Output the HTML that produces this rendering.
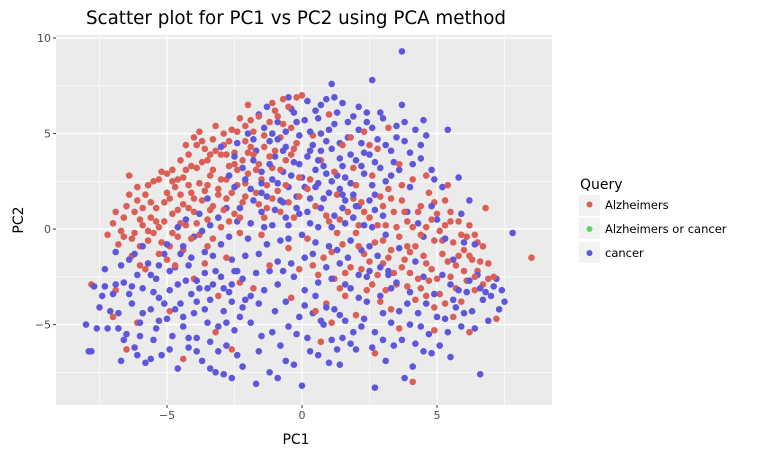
<!DOCTYPE html>
<html><head><meta charset="utf-8"><style>
body{margin:0;background:#fff;}
svg{display:block;font-family:"DejaVu Sans","Liberation Sans",sans-serif;}
</style></head><body>
<svg id="chart" width="761" height="456">
<rect x="0" y="0" width="761" height="456" fill="#fff"></rect>
<text x="296" y="24" font-size="18.3" text-anchor="middle" fill="#000">Scatter plot for PC1 vs PC2 using PCA method</text>
<rect x="56" y="35" width="496" height="370" fill="#ebebeb"></rect>
<g id="grid"></g>
<g id="axes"></g>
<g id="pts"></g>
<text x="296" y="444" font-size="14" text-anchor="middle" fill="#000">PC1</text>
<text x="23" y="220" font-size="14" text-anchor="middle" fill="#000" transform="rotate(-90 23 220)">PC2</text>
<g>
<text x="580" y="189" font-size="14" fill="#000">Query</text>
<g><rect x="579" y="195" width="21" height="21" fill="#f2f2f2"></rect><circle cx="589.5" cy="204.5" r="3" fill="#db5f57"></circle><text x="605" y="209" font-size="11.5" fill="#000">Alzheimers</text></g>
<g><rect x="579" y="218" width="21" height="21" fill="#f2f2f2"></rect><circle cx="589.5" cy="229" r="3" fill="#57db5f"></circle><text x="605" y="233" font-size="11.5" fill="#000">Alzheimers or cancer</text></g>
<g><rect x="579" y="242" width="21" height="21" fill="#f2f2f2"></rect><circle cx="589.5" cy="253" r="3" fill="#5f57db"></circle><text x="605" y="257" font-size="11.5" fill="#000">cancer</text></g>
</g>
</svg>
<script>
const xTicks=[-5,0,5];
const yTicks=[-5,0,5,10];
const xMinor=[-7.5,-2.5,2.5,7.5];
const yMinor=[-7.5,-2.5,2.5,7.5];
const alzheimersPts=[[-7.2,-0.3],[-7,0.3],[-6.8,-0.8],[-6.6,0.6],[-6.5,1.2],[-6.4,2.8],[-6.3,-0.5],[-6.2,0.9],[-6.1,1.5],[-6,-0.9],[-5.9,0.2],[-5.8,1.8],[-5.7,2.3],[-5.6,0.6],[-5.5,-0.2],[-5.4,1.1],[-5.3,2.6],[-5.2,-0.7],[-5.1,0.4],[-5,2.9],[-4.9,1.6],[-4.8,3.1],[-4.8,0.8],[-4.7,2.2],[-4.6,-0.4],[-4.5,3.6],[-4.4,1.3],[-4.4,2.7],[-4.3,0.2],[-4.2,3.9],[-4.1,1.9],[-4,4.8],[-4,0.9],[-3.9,3.2],[-3.8,2.4],[-3.8,5.1],[-3.7,1.5],[-3.6,4.2],[-3.5,0.5],[-3.5,3.6],[-3.4,2.8],[-3.3,4.7],[-3.3,1.2],[-3.2,5.4],[-3.1,2.1],[-3,3.9],[-3,0.1],[-2.9,4.4],[-2.8,2.6],[-2.8,1.6],[-2.7,3.3],[-2.6,5.2],[-2.5,4],[-2.5,0.8],[-2.4,2.3],[-2.3,5.8],[-2.2,3.6],[-2.2,1.4],[-2.1,4.6],[-2,2.9],[-2,6.5],[-1.9,0.3],[-1.8,5.1],[-1.8,3.9],[-1.7,1.9],[-1.6,5.9],[-1.5,2.6],[-1.4,4.3],[-1.3,1.1],[-1.2,5.6],[-1.1,3.2],[-1,6.2],[-0.9,2],[-0.8,4.8],[-0.7,6.8],[-0.6,3.6],[-0.5,1.4],[-0.4,5.3],[-0.3,0.6],[-0.2,6.9],[-0.1,2.7],[0,7],
[-7.8,-2.9],[-6.3,-1.4],[-5.8,-2.1],[-6.9,-3.2],[-5,-1.6],[-4.4,-1.1],[-4,-2.6],[-3.6,-1.8],[-6.5,-6.3],[-4.9,-4.3],[-6.1,-4.9],[-3.1,-3.5],[-2.3,-2.8],[-2.6,-6.3],[-4.4,-6.8],[-3.2,-5.4],[-7,-4.6],
[0.2,-0.5],[0.5,1.2],[0.8,-1.5],[1,0.4],[1.2,-2.6],[1.3,1.8],[1.5,-0.8],[1.7,0.9],[1.8,-2],[2,2.3],[2,-0.2],[2.2,1.4],[2.3,-1.3],[2.4,-3.2],[2.5,0.6],[2.6,2.8],[2.7,-0.7],[2.8,-2.4],[2.9,1.7],[3,-1.8],[3.1,0.2],[3.2,2.1],[3.3,-1.1],[3.4,0.9],[3.5,-2.9],[3.6,-0.4],[3.7,1.5],[3.8,-1.6],[3.9,0.4],[4,-2.3],[4.1,2.6],[4.2,-0.9],[4.3,0.9],[4.4,-3.1],[4.5,-1.4],[4.6,0.1],[4.7,1.9],[4.8,-2.1],[4.9,-0.6],[5,0.8],[5.1,-3.4],[5.2,-1.3],[5.3,0.2],[5.4,2.3],[5.5,-2.5],[5.6,-0.7],[5.7,-1.9],[5.8,0.4],[5.9,-3.8],[6,-1.1],[6.1,-2.7],[6.2,0.2],[6.3,-1.6],[6.4,-3.2],[6.5,-2.2],[6.7,-0.9],[6.8,1.1],[6.9,-2.6],[7.2,-4.7],[8.5,-1.5],[6.2,-5.4],[4.1,-8],[2.7,-6.5],[1.1,-4.9],[0.7,-5.9],[-0.4,-3.6],[0.9,-3.9],[3.3,-4.2],[5.6,-4.6],[4.9,-5.3],
[-1.5,-0.3],[-0.8,0.9],[-1.2,-1.9],[-0.5,-1],[0.3,2.6],[0.7,3.6],[1.5,4.4],[2.3,5.1],[1,6],[2.8,4.2],[3.2,5.3],[1.9,3.2],[0.4,4.9],[-1.8,-3.1],[-0.1,-2.1],
[-6.7,-0.1],[-6,0.5],[-5.6,1.4],[-5.3,0.1],[-5,1.9],[-4.6,2.6],[-4.2,1.1],[-4.1,3.3],[-3.9,0.3],[-3.6,2],[-3.4,3.9],[-3.1,1.8],[-2.9,5],[-2.7,0.4],[-2.4,3.1],[-2.1,1.7],[-1.9,4.3],[-1.6,3.4],[-1.3,2.3],[-1,4.1],[-0.7,5.5],[-0.4,3.9],[-4.8,-0.2],[-5.7,-0.6],[-3.3,-0.5],[-2.3,-0.2],[-1.4,0.6],[-3.7,4.6],[-2.7,4.6],[-2.1,5.4],[-4.3,4.4],[-1.1,6.6],[-0.2,4.5],[-6.1,2.2],[-5.2,3],[-4.5,1.8],
[3.9,-0.9],[4.4,1.2],[4.7,-2.7],[5.1,-0.1],[5.5,0.9],[5.8,-1.4],[6.1,-0.4],[6.6,-1.7],[6.4,-0.3],[3.4,-2.3],[2.9,-3.8],[4.2,-3.7],[1.6,-3.5],[2.1,0.2],[3,1.2],[2.5,-1.7],[1.3,-0.2],[0.6,-2.4],[4.6,2.8],[5.3,1.5],[3.6,3.4],[4.9,-4.1],
[-6.9,0.9],[-6.6,-0.4],[-6.4,1.8],[-6.2,-0.2],[-5.9,1.1],[-5.7,-0.1],[-5.5,2.5],[-5.4,0.4],[-5.1,1.4],[-4.9,-0.9],[-4.8,2.5],[-4.6,1],[-4.5,0.3],[-4.3,3.1],[-4.2,2.3],[-4,1.6],[-3.9,4.4],[-3.8,-0.3],[-3.7,3.5],[-3.5,2.3],[-3.4,1],[-3.3,3.1],[-3.2,4.1],[-3,2.6],[-2.9,1],[-2.8,3.9],[-2.6,1.9],[-2.5,3.4],[-2.4,5.1],[-2.3,0.6],[-2.1,2.4],[-2,4],[-1.9,5.7],[-1.7,3.1],[-1.6,1.3],[-1.4,4.9],[-1.2,3.8],[-1.1,1.6],[-0.9,5.9],[-0.8,3.1],[-0.6,2.3],[-0.5,6.4],[-0.3,4.2],[-0.1,1.7],[-5.3,-1.3],[-4.7,-1.9],[-3.5,-0.9],[-2.8,-1.5],[-6,-1.9],[-4.1,-0.5],
[0.4,-1.9],[0.9,0.7],[1.1,-1.2],[1.4,0.5],[1.6,-2.3],[1.9,1.6],[2.1,-0.9],[2.3,0.9],[2.6,-2.9],[2.8,0.2],[3,-0.6],[3.2,-1.5],[3.3,1.6],[3.5,0.1],[3.7,-2],[3.8,0.9],[4,-1.2],[4.1,0.1],[4.3,-2.6],[4.4,-0.3],[4.6,-1.8],[4.8,0.5],[4.9,1.4],[5,-2.6],[5.2,-0.6],[5.4,-1.7],[5.5,0.4],[5.7,-3.1],[5.9,-0.3],[6,-2.2],[6.2,-1.4],[6.4,-2.5],[6.5,-0.7],[6.7,-2.9],[6.9,-1.8],[7.1,-2.5],[5.3,-3.9],[4.6,-3.5],[3.9,-3],[3.1,-3.2],[2.2,-2.1],[1.4,-3.1],[0.5,-4.3],[2,-4.5],[3.6,-5.2],[1.8,4.8],[2.5,4.4],[1.2,3],[0.2,2.1],[3.7,2.3]];
const cancerPts=[[-2.2,3.2],[-2,5],[-1.9,2.1],[-1.7,4.1],[-1.6,6],[-1.5,3],[-1.4,5.3],[-1.3,1.7],[-1.2,4.6],[-1.1,2.6],[-1,3.8],[-0.9,5.6],[-0.8,1.5],[-0.7,3],[-0.6,4.3],[-0.5,2.2],[-0.4,6.3],[-0.3,3.5],[-0.2,1.1],[-0.1,4.9],[0,2.7],[0.1,5.7],[0.2,3.8],[0.3,1.6],[0.4,4.4],[0.5,6.2],[0.6,2.4],[0.7,5],[0.8,3.3],[0.9,6.8],[1,1.9],[1.1,4.2],[1.2,5.5],[1.3,2.8],[1.4,3.7],[1.5,6.6],[1.6,1.5],[1.7,4.8],[1.8,2.4],[1.9,5.9],[2,3.6],[2.1,1.2],[2.2,4.5],[2.3,2.9],[2.4,6.1],[2.5,3.9],[2.6,5.3],[2.7,1.8],[2.8,4.7],[2.9,3.2],[3,5.8],[3.1,2.5],[3.3,4.1],[3.5,5.4],[3.6,3.1],[3.7,6.5],[3.8,4.6],[4,2.2],[4.2,5.2],[4.4,3.7],[4.6,4.9],[5.4,5.2],[3.7,9.3],[2.6,7.8],[1.1,7.6],[-0.5,6.9],[0.3,4.1],[-1.8,3.6],[-2.4,4.5],[-2.7,2.8],[-3,4.3],[1.4,4.5],[0.7,4.1],[2.1,5.2],[-0.9,4.7],[0.2,6.7],[1.8,3.9],[-0.1,3.4],[2.6,2.3],[3.4,3.5],[4,4],[4.8,3.1],[5.2,2.2],[-1.3,6.4],[0.6,5.8],[1.3,6.1],[-0.6,5.1],[0.9,2.9],[1.6,2.7],[2.2,3.3],
[-4,-0.4],[-3.8,0.8],[-3.6,-1.2],[-3.4,0.2],[-3.2,-2.2],[-3,-0.8],[-2.8,1.1],[-2.6,-1.6],[-2.4,0.4],[-2.2,-2.6],[-2,-0.5],[-1.8,1.5],[-1.6,-1.3],[-1.4,0.1],[-1.2,-2.2],[-1,1],[-0.8,-0.6],[-0.6,0.6],[-0.4,-1.8],[-0.2,1.7],[0,-0.3],[0.2,0.9],[0.4,-1.3],[0.6,0.1],[0.8,1.6],[1,-0.9],[1.2,0.7],[1.4,-1.8],[1.6,0.3],[1.8,-0.6],[2,1.2],[2.2,-1.1],[2.4,-2.5],[2.6,0.1],[2.8,-1.4],[3,0.7],[3.2,-2.2],[-2.9,-3.1],[-1.9,-3.5],[-0.9,-2.9],[0.1,-3.2],[1.1,-2.6],[2.1,-3.6],[-3.5,1.6],[-2.5,2.2],[-1.5,2.4],[-0.5,0.2],[0.5,2.2],[1.5,1.1],[-4.5,-1.3],[-4.3,0.5],[-4.9,-2.2],[-3.9,-2.7],
[-8,-5],[-7.8,-6.4],[-7.7,-3],[-7.5,-4.1],[-7.3,-2.1],[-7.2,-5.2],[-7,-3.4],[-6.9,-1.2],[-6.8,-4.4],[-6.7,-6.9],[-6.6,-2.8],[-6.5,-5.5],[-6.4,-1.6],[-6.3,-3.9],[-6.2,-6.2],[-6.1,-2.4],[-6,-4.9],[-5.9,-3.1],[-5.8,-7],[-5.7,-1.8],[-5.6,-4.2],[-5.5,-5.8],[-5.4,-2.6],[-5.3,-3.6],[-5.2,-6.6],[-5.1,-1.3],[-5,-4.7],[-4.9,-3.2],[-4.8,-5.6],[-4.7,-2],[-4.6,-7.3],[-4.5,-3.9],[-4.4,-5.1],[-4.3,-2.7],[-4.2,-6.2],[-4.1,-1.5],[-4,-4.4],[-3.9,-5.7],[-3.8,-3.1],[-3.7,-6.9],[-3.6,-2.3],[-3.5,-4.9],[-3.4,-3.7],[-3.2,-7.5],[-3.1,-5.1],[-3,-2.5],[-2.9,-4.3],[-2.8,-6.1],[-2.7,-3.3],[-2.6,-7.8],[-2.5,-5.3],[-2.4,-2.2],[-2.3,-4.6],[-2.2,-7.2],[-2.1,-3.7],[-6.3,-3],[-5.5,-3.3],[-4.7,-4.2],[-3.9,-3.8],[-6,-5.6],[-5.3,-4.8],[-7.4,-3.5],[-6.8,-5.2],[-5.9,-0.9],[-6.7,-1.9],[-4.4,-0.9],[-5.6,-6.8],[-3.4,-5.9],
[1.2,-4.2],[1.5,-5.7],[1.8,-3.1],[2,-6.3],[2.3,-4.7],[2.5,-2.2],[2.7,-5.4],[2.9,-3.5],[3.1,-6.9],[3.3,-4.9],[3.5,-2.8],[3.7,-5.8],[3.9,-3.9],[4.1,-7.2],[4.3,-4.4],[4.5,-2.5],[4.7,-5.5],[4.9,-3.4],[5.1,-6.1],[5.3,-4.7],[5.5,-2.9],[5.7,-4.1],[5.9,-5.1],[6.1,-3.3],[6.3,-4.3],[6.5,-2.4],[6.7,-3.7],[6.9,-4.8],[7.1,-3],[7.3,-4.2],[7.5,-3.8],[7.8,-0.2],[7.2,-2.6],[6.6,-7.6],[5.5,-6.7],[4.5,-6.4],[3.8,-7.8],[2.7,-8.3],[5,0.5],[4.5,-0.4],[3.9,0.9],[5.6,-1.6],[6,-0.7],[4.2,-1.7],[3.6,-1],[6.2,1.5],[5.8,2.7],[5.6,-3.7],[4,-5],[3,-5.8],[2.2,-5.1],[6.8,-3.3],
[-1.7,-8.1],[-1.5,-5.6],[-1.2,-7.5],[-1,-4.3],[-0.8,-6.1],[-0.5,-5.1],[-0.3,-7.1],[0,-8.2],[0.2,-5.7],[0.4,-4.4],[0.6,-6.6],[0.8,-5],[1,-7],[1.3,-6.3],[1.6,-4.8],[1.8,-6],[-1.9,-4.9],[-0.1,-4.6],[0.9,-4.1],[-1.4,-3.2],[-0.6,-3.8],[0.5,-3.5],
[-2.5,3.8],[-2.1,2.6],[-1.8,4.7],[-1.5,1.9],[-1.2,3.4],[-0.9,2.4],[-0.7,4.1],[-0.4,2.8],[-0.2,5.6],[0.1,2.2],[0.3,5.1],[0.5,3.1],[0.7,6.5],[0.9,4.6],[1.1,2.5],[1.2,6.9],[1.5,3.3],[1.7,5.6],[1.9,1.8],[2.1,6.4],[2.3,4],[2.5,1.5],[2.7,3.5],[2.9,6.1],[3.1,4.4],[3.3,2.8],[3.5,4.8],[3.8,5.6],[4.1,3.4],[4.4,4.4],[4.5,5.7],[4.9,2.6],[1,5.2],[-0.3,6.1],[-1.1,5],[0.6,3.6],[2.4,5.6],[1.4,2.1],
[-3.7,-0.1],[-3.3,-1.4],[-3.1,0.6],[-2.7,-0.4],[-2.5,-2.2],[-2.3,1.1],[-2.1,-1.4],[-1.9,0.3],[-1.7,-2.3],[-1.5,0.9],[-1.3,-0.8],[-1.1,0.2],[-0.9,-1.7],[-0.7,1.4],[-0.5,-0.5],[-0.3,-2.5],[-0.1,0.8],[0.1,-1.5],[0.3,0.3],[0.5,-0.7],[0.7,1.1],[0.9,-2],[1.1,0.1],[1.3,-1.1],[1.5,1.8],[1.7,-1.5],[1.9,0.6],[2.1,-2.4],[2.3,0.2],[2.5,-0.9],[2.7,1],[2.9,-2],[3.1,-0.3],[3.3,-3.1],[-4.2,-1.9],[-4.6,0.1],[-5,-0.8],[-3.5,-3.1],[-2.6,-3.8],[-1.6,-3.9],[-0.7,-2.2],[0.6,-2.8],[1.6,-2.9],
[-7.9,-6.4],[-7.6,-5.2],[-7.1,-4.3],[-6.9,-2.9],[-6.6,-5.8],[-6.4,-3.4],[-6.1,-6.6],[-5.9,-4.4],[-5.6,-2.4],[-5.4,-5.2],[-5.1,-3.9],[-4.9,-6.3],[-4.6,-2.9],[-4.4,-4.6],[-4.1,-3.4],[-3.9,-6.4],[-3.6,-4.2],[-3.3,-2.9],[-3.1,-6.4],[-2.8,-4.9],[-2.6,-2.9],[-2.4,-6.6],[-2.2,-4.1],[-7.3,-3],[-6.2,-1.3],[-5.3,-1.9],[-4.2,-5.7],[-3.4,-7.3],[-2.9,-7.6],
[1.4,-4.5],[1.9,-5.4],[2.4,-3.8],[2.6,-6.2],[3,-4.4],[3.2,-2.4],[3.4,-6.1],[3.6,-4.3],[4,-3.3],[4.2,-6],[4.4,-5.1],[4.6,-3.9],[4.8,-6.5],[5,-4.6],[5.2,-2.4],[5.4,-5.4],[5.8,-3.2],[6,-4.4],[6.2,-2.7],[6.4,-5.2],[6.6,-3.1],[7,-3.5],[7.4,-3.2],[6.4,-0.8],[5.3,-0.5],[4.8,1.2],[4.3,0.3],[5.9,0.8],
[-1.1,-5.4],[-0.6,-6.9],[-0.2,-5.5],[0.3,-6.4],[0.7,-4.8],[1.1,-5.8],[1.4,-7.1],[-1.6,-6.4],[-0.9,-7.8],[0.1,-4]];

const NS="http://www.w3.org/2000/svg";
const X0=56,X1=552,Y0=35,Y1=405;
const xMin=-9.111,xMax=9.259,yMin=-9.21,yMax=10.16;
function sx(v){return X0+(v-xMin)/(xMax-xMin)*(X1-X0);}
function sy(v){return Y1-(v-yMin)/(yMax-yMin)*(Y1-Y0);}
function mk(tag,attrs,parent){const e=document.createElementNS(NS,tag);for(const k in attrs)e.setAttribute(k,attrs[k]);parent.appendChild(e);return e;}
const grid=document.getElementById('grid'),axes=document.getElementById('axes'),pts=document.getElementById('pts');
xMinor.forEach(v=>{const l=mk('line',{x1:sx(v),x2:sx(v),y1:Y0,y2:Y1,stroke:'#fff','stroke-width':0.6},grid);

});
yMinor.forEach(v=>{const l=mk('line',{x1:X0,x2:X1,y1:sy(v),y2:sy(v),stroke:'#fff','stroke-width':0.6},grid);

});
xTicks.forEach(v=>{const l=mk('line',{x1:sx(v),x2:sx(v),y1:Y0,y2:Y1,stroke:'#fff','stroke-width':1.3},grid);


const t=mk('line',{x1:sx(v),x2:sx(v),y1:Y1,y2:Y1+3,stroke:'#333','stroke-width':1},axes);


const tx=mk('text',{x:sx(v),y:Y1+14,'font-size':11,'text-anchor':'middle',fill:'#4d4d4d'},axes);


tx.textContent=(v<0?'\u2212':'')+Math.abs(v);});
yTicks.forEach(v=>{const l=mk('line',{x1:X0,x2:X1,y1:sy(v),y2:sy(v),stroke:'#fff','stroke-width':1.3},grid);


const t=mk('line',{x1:X0-3,x2:X0,y1:sy(v),y2:sy(v),stroke:'#333','stroke-width':1},axes);


const tx=mk('text',{x:X0-5,y:sy(v)+4,'font-size':11,'text-anchor':'end',fill:'#4d4d4d'},axes);


tx.textContent=(v<0?'\u2212':'')+Math.abs(v);});
const n=Math.max(alzheimersPts.length,cancerPts.length);
for(let i=0;i<n;i++){
 if(i<alzheimersPts.length){const p=alzheimersPts[i];const c=mk('circle',{cx:sx(p[0]),cy:sy(p[1]),r:3.3,fill:'#db5f57'},pts);
 
 }
 if(i<cancerPts.length){const p=cancerPts[i];const c=mk('circle',{cx:sx(p[0]),cy:sy(p[1]),r:3.3,fill:'#5f57db'},pts);
 
 }
}
</script>
</body></html>
